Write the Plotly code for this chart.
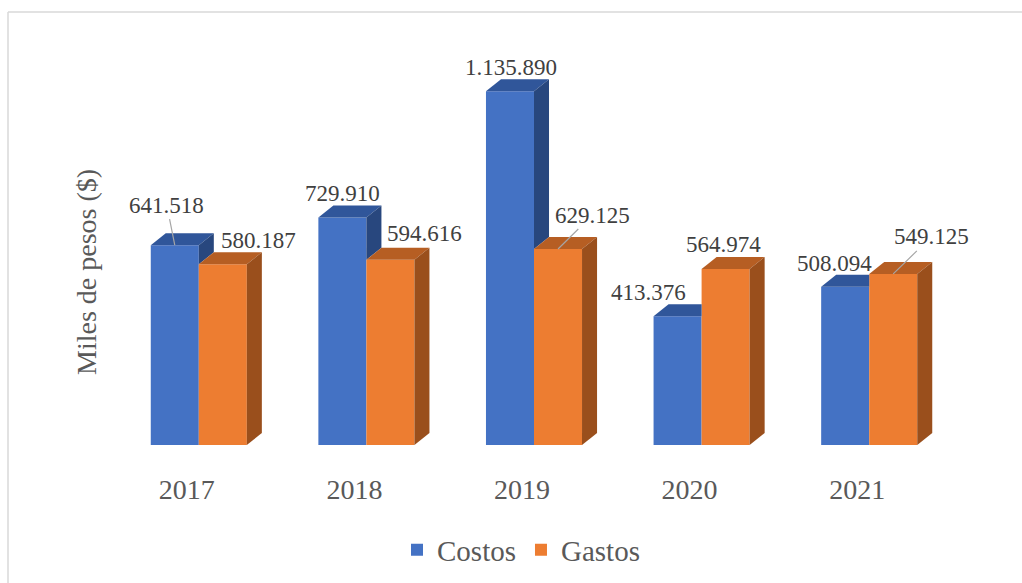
import plotly.graph_objects as go

# ---- data (miles de pesos) ----
years = ["2017", "2018", "2019", "2020", "2021"]
costos = [641.518, 729.910, 1135.890, 413.376, 508.094]
gastos = [580.187, 594.616, 629.125, 564.974, 549.125]
costos_labels = ["641.518", "729.910", "1.135.890", "413.376", "508.094"]
gastos_labels = ["580.187", "594.616", "629.125", "564.974", "549.125"]

# ---- styling ----
BLUE, BLUE_TOP, BLUE_SIDE = "#4472C4", "#30569A", "#28477E"
ORANGE, ORANGE_TOP, ORANGE_SIDE = "#ED7D31", "#B65E23", "#9A4F1C"
FONT = "Times New Roman"
TEXT = "#404040"
GREY = "#595959"

W, H = 1022, 583
ML, MR, MT, MB = 115, 69, 40, 138
Y_MAX = 1300
BW = 0.2866          # bar width in category units
DX = 0.0896          # depth offset, x (category units)
DY = 38.5            # depth offset, y (value units)

# label offsets in pixels (x, y-up) and leader-line flag
c_off = [(-8, 40, True), (0, 24.5, False), (1, 24, False), (-29, 24, False), (-10.5, 23.5, False)]
g_off = [(36, 24, False), (34, 26, False), (34.5, 34, True), (-2, 24, False), (38, 37, True)]

x = list(range(len(years)))
fig = go.Figure()

# front faces
fig.add_trace(go.Bar(x=x, y=costos, width=BW, offset=-BW, marker=dict(color=BLUE, line_width=0),
                     name="Costos"))
fig.add_trace(go.Bar(x=x, y=gastos, width=BW, offset=0, marker=dict(color=ORANGE, line_width=0),
                     name="Gastos"))


def poly(xs, ys, color):
    fig.add_trace(go.Scatter(x=xs + [xs[0]], y=ys + [ys[0]], fill="toself", fillcolor=color,
                             mode="lines", line=dict(width=0, color=color),
                             hoverinfo="skip", showlegend=False))


# depth faces: blue first, then orange so the orange block hides what is behind it
for i, (c, g) in enumerate(zip(costos, gastos)):
    xl, xm, xr = i - BW, i, i + BW
    # blue top (clipped where the orange front is in front of it)
    if g >= c + DY:
        poly([xl, xm, xm, xl + DX], [c, c, c + DY, c + DY], BLUE_TOP)
    else:
        poly([xl, xm, xm + DX, xl + DX], [c, c, c + DY, c + DY], BLUE_TOP)
    # blue side, visible only above the orange block
    if c > g:
        poly([xm, xm + DX, xm + DX, xm], [g, g + DY, c + DY, c], BLUE_SIDE)
    # orange top and side
    poly([xm, xr, xr + DX, xm + DX], [g, g, g + DY, g + DY], ORANGE_TOP)
    poly([xr, xr + DX, xr + DX, xr], [0, DY, g + DY, g], ORANGE_SIDE)

# data labels
ann = []
for i in x:
    for val, lab, off, cx in ((costos[i], costos_labels[i], c_off[i], i - BW / 2),
                              (gastos[i], gastos_labels[i], g_off[i], i + BW / 2)):
        ox, oy, lead = off
        if lead:
            ann.append(dict(x=cx, y=val, xref="x", yref="y", text=lab, showarrow=True,
                            arrowhead=0, arrowwidth=1.2, arrowcolor="#A6A6A6",
                            ax=ox, ay=-oy, standoff=0, startstandoff=0,
                            font=dict(family=FONT, size=23, color=TEXT)))
        else:
            ann.append(dict(x=cx, y=val, xref="x", yref="y", text=lab, showarrow=False,
                            xshift=ox, yshift=oy,
                            font=dict(family=FONT, size=23, color=TEXT)))

pw = W - ML - MR
ph = H - MT - MB


def px_x(p):
    return (p - ML) / pw


def px_y(p):
    return (H - MB - p) / ph


# axis title, placed beside the plot
ann.append(dict(x=px_x(86), y=px_y(272), xref="paper", yref="paper", text="Miles de pesos ($)",
                textangle=-90, showarrow=False, xanchor="center", yanchor="middle",
                font=dict(family=FONT, size=28, color=GREY)))

FRAME = dict(color="#D9D9D9", width=1.5)

fig.update_layout(
    width=W, height=H,
    margin=dict(l=ML, r=MR, t=MT, b=MB, autoexpand=False),
    paper_bgcolor="white", plot_bgcolor="white",
    font=dict(family=FONT, color=GREY),
    barmode="overlay",
    showlegend=True,
    legend=dict(orientation="h", x=(521 / W), xanchor="center", xref="container",
                y=(H - 550) / H, yanchor="middle", yref="container",
                font=dict(family=FONT, size=29, color=GREY),
                itemwidth=30, traceorder="normal"),
    xaxis=dict(range=[-0.5, 4.5], tickmode="array", tickvals=x, ticktext=years,
               showgrid=False, zeroline=False, showline=False, ticks="",
               tickfont=dict(family=FONT, size=28, color=GREY),
               ticklabelshift=-12, ticklabelstandoff=25),
    yaxis=dict(range=[0, Y_MAX], showgrid=False, zeroline=False, showline=False,
               showticklabels=False, ticks=""),
    annotations=ann,
    # chart frame: only its top and left edges fall inside the page
    shapes=[dict(type="line", xref="paper", yref="paper",
                 x0=px_x(8), x1=px_x(W), y0=px_y(12), y1=px_y(12), line=FRAME, layer="below"),
            dict(type="line", xref="paper", yref="paper",
                 x0=px_x(8), x1=px_x(8), y0=px_y(12), y1=px_y(H), line=FRAME, layer="below")],
)

fig.write_html("out.html")
